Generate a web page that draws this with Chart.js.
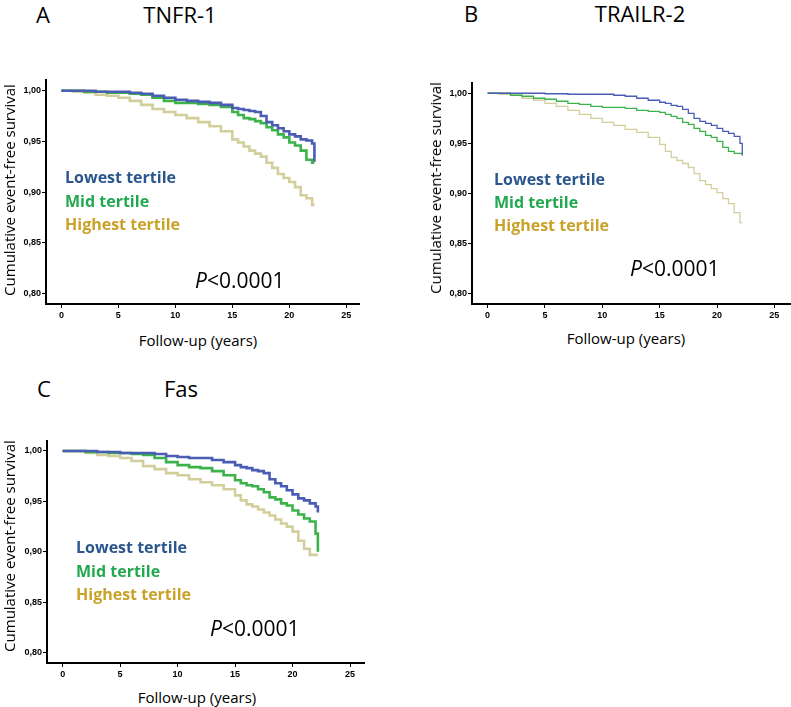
<!DOCTYPE html>
<html>
<head>
<meta charset="utf-8">
<script src="https://cdn.jsdelivr.net/npm/chart.js@4.4.1/dist/chart.umd.min.js"></script>
<style>
  body { margin: 0; background: #fff; width: 791px; height: 707px; position: relative; overflow: hidden; font-family: "Open Sans", sans-serif; }
  canvas { position: absolute; }
  .t { position: absolute; white-space: nowrap; transform: translate(-50%, -50%); color: #000; }
  .ttl { font-size: 22px; }
  .xt { font-size: 15px; }
  .yt { font-size: 15px; transform: translate(-50%, -50%) rotate(-90deg); }
  .lg { position: absolute; white-space: nowrap; transform: translateY(-50%); font-weight: bold; font-size: 16px; }
  .pv { position: absolute; white-space: nowrap; transform: translateY(-50%); font-size: 21px; }
</style>
</head>
<body>

<canvas id="chartA" width="360" height="245" style="left:0px;top:79px"></canvas>
<canvas id="chartB" width="366" height="242" style="left:425px;top:82px"></canvas>
<canvas id="chartC" width="365" height="243" style="left:0px;top:440px"></canvas>

<!-- titles -->
<div class="t ttl" style="left:43px;top:14px">A</div>
<div class="t ttl" style="left:180px;top:14px">TNFR-1</div>
<div class="t ttl" style="left:471px;top:13px">B</div>
<div class="t ttl" style="left:640px;top:13px">TRAILR-2</div>
<div class="t ttl" style="left:44px;top:388px">C</div>
<div class="t ttl" style="left:181px;top:388px">Fas</div>

<!-- axis titles -->
<div class="t yt" style="left:9px;top:190px">Cumulative event-free survival</div>
<div class="t yt" style="left:435px;top:188px">Cumulative event-free survival</div>
<div class="t yt" style="left:9px;top:546px">Cumulative event-free survival</div>
<div class="t xt" style="left:198px;top:340px">Follow-up (years)</div>
<div class="t xt" style="left:626px;top:338px">Follow-up (years)</div>
<div class="t xt" style="left:197px;top:697px">Follow-up (years)</div>

<!-- legends -->
<div class="lg" style="left:65px;top:177px;color:#2b568c">Lowest tertile</div>
<div class="lg" style="left:65px;top:201px;color:#22a94f">Mid tertile</div>
<div class="lg" style="left:65px;top:224px;color:#c9a22a">Highest tertile</div>
<div class="pv" style="left:195px;top:280px"><i>P</i>&lt;0.0001</div>

<div class="lg" style="left:494px;top:179px;color:#2b568c">Lowest tertile</div>
<div class="lg" style="left:494px;top:202px;color:#22a94f">Mid tertile</div>
<div class="lg" style="left:494px;top:225px;color:#c9a22a">Highest tertile</div>
<div class="pv" style="left:630px;top:268px"><i>P</i>&lt;0.0001</div>

<div class="lg" style="left:76px;top:547px;color:#2b568c">Lowest tertile</div>
<div class="lg" style="left:76px;top:571px;color:#22a94f">Mid tertile</div>
<div class="lg" style="left:76px;top:594px;color:#c9a22a">Highest tertile</div>
<div class="pv" style="left:210px;top:628px"><i>P</i>&lt;0.0001</div>

<script>
// --- Data: follow-up times (years) and survival per tertile ---
const years = [0, 1, 2, 3, 4, 5, 6, 7, 8, 9, 10, 11, 12, 13, 14, 15, 15.5, 16, 16.5, 17, 17.5, 18, 18.5, 19, 19.5, 20, 20.5, 21, 21.5, 22, 22.2];
const xTicks = [0, 5, 10, 15, 20, 25];
const yTicks = [0.80, 0.85, 0.90, 0.95, 1.00];

// A - TNFR-1
const tnfrLowest  = [1.000, 1.000, 1.000, 0.999, 0.999, 0.999, 0.998, 0.997, 0.995, 0.993, 0.991, 0.990, 0.989, 0.988, 0.986, 0.983, 0.982, 0.981, 0.980, 0.979, 0.975, 0.969, 0.966, 0.963, 0.960, 0.957, 0.955, 0.952, 0.951, 0.948, 0.930];
const tnfrMid     = [1.000, 1.000, 0.999, 0.999, 0.998, 0.998, 0.997, 0.996, 0.993, 0.990, 0.988, 0.988, 0.987, 0.986, 0.984, 0.979, 0.976, 0.973, 0.972, 0.970, 0.968, 0.964, 0.961, 0.957, 0.954, 0.949, 0.946, 0.941, 0.932, 0.929, 0.929];
const tnfrHighest = [1.000, 0.999, 0.998, 0.996, 0.995, 0.993, 0.990, 0.986, 0.982, 0.979, 0.976, 0.973, 0.969, 0.965, 0.960, 0.952, 0.949, 0.945, 0.941, 0.938, 0.935, 0.929, 0.924, 0.918, 0.914, 0.910, 0.905, 0.897, 0.894, 0.8875, 0.8875];

// B - TRAILR-2
const trailLowest  = [1.000, 1.000, 1.000, 1.000, 1.000, 0.9995, 0.9995, 0.999, 0.999, 0.999, 0.999, 0.998, 0.997, 0.995, 0.993, 0.991, 0.990, 0.988, 0.987, 0.984, 0.980, 0.975, 0.972, 0.970, 0.968, 0.965, 0.962, 0.960, 0.957, 0.950, 0.938];
const trailMid     = [1.000, 1.000, 0.998, 0.997, 0.995, 0.994, 0.992, 0.990, 0.989, 0.987, 0.986, 0.986, 0.985, 0.983, 0.982, 0.981, 0.979, 0.977, 0.975, 0.971, 0.969, 0.965, 0.962, 0.958, 0.956, 0.952, 0.946, 0.942, 0.940, 0.940, 0.939];
const trailHighest = [1.000, 0.999, 0.998, 0.995, 0.993, 0.990, 0.987, 0.983, 0.979, 0.975, 0.971, 0.968, 0.964, 0.961, 0.956, 0.949, 0.942, 0.936, 0.933, 0.930, 0.926, 0.920, 0.913, 0.909, 0.905, 0.901, 0.895, 0.890, 0.881, 0.871, 0.871];

// C - Fas
const fasLowest  = [1.000, 1.000, 1.000, 0.999, 0.999, 0.998, 0.998, 0.998, 0.997, 0.995, 0.994, 0.993, 0.993, 0.991, 0.989, 0.986, 0.984, 0.983, 0.981, 0.980, 0.978, 0.972, 0.968, 0.965, 0.961, 0.957, 0.953, 0.951, 0.948, 0.945, 0.939];
const fasMid     = [1.000, 1.000, 0.999, 0.999, 0.998, 0.998, 0.997, 0.996, 0.993, 0.989, 0.986, 0.984, 0.983, 0.980, 0.976, 0.971, 0.968, 0.966, 0.965, 0.962, 0.959, 0.954, 0.952, 0.948, 0.946, 0.941, 0.937, 0.933, 0.930, 0.918, 0.900];
const fasHighest = [1.000, 1.000, 0.998, 0.996, 0.995, 0.993, 0.990, 0.985, 0.982, 0.978, 0.976, 0.972, 0.969, 0.966, 0.962, 0.956, 0.951, 0.947, 0.945, 0.942, 0.939, 0.936, 0.932, 0.928, 0.925, 0.920, 0.911, 0.903, 0.897, 0.897, 0.897];

const lineColors = ['#4a5cb3', '#3bb34a', '#d3cf9c'];

/**
 * Builds one Kaplan-Meier style panel. yW / xH fix the axis box sizes
 * so the plot area lands where the original figure has it.
 */
function makePanel(id, series, opts) {
    const ctx = document.getElementById(id).getContext('2d');
    const tickFont = { family: 'Liberation Sans', size: 9, weight: 'bold' };

    return new Chart(ctx, {
        type: 'line',
        data: {
            datasets: series.map((vals, i) => ({
                data: years.map((t, j) => ({ x: t, y: vals[j] })),
                borderColor: lineColors[i],
                borderWidth: opts.lw,
                stepped: true,
                pointRadius: 0,
                fill: false
            }))
        },
        options: {
            responsive: false,
            animation: false,
            layout: { padding: 0 },
            plugins: { legend: { display: false }, tooltip: { enabled: false } },
            scales: {
                x: {
                    type: 'linear',
                    min: opts.xMin,
                    max: opts.xMax,
                    afterBuildTicks: s => { s.ticks = xTicks.map(v => ({ value: v })); },
                    afterFit: s => { s.height = opts.xH; s.paddingLeft = 0; s.paddingRight = 0; },
                    grid: { drawOnChartArea: false, drawTicks: true, tickLength: 4, color: '#000', lineWidth: 1 },
                    border: { display: true, color: '#000', width: 2 },
                    ticks: { font: tickFont, color: '#000', padding: 2, maxRotation: 0, autoSkip: false }
                },
                y: {
                    type: 'linear',
                    min: opts.yMin,
                    max: opts.yMax,
                    afterBuildTicks: s => { s.ticks = yTicks.map(v => ({ value: v })); },
                    afterFit: s => { s.width = opts.yW; s.paddingTop = 0; s.paddingBottom = 0; },
                    grid: { drawOnChartArea: false, drawTicks: true, tickLength: 4, color: '#000', lineWidth: 1 },
                    border: { display: true, color: '#000', width: 2 },
                    ticks: {
                        font: tickFont, color: '#000', padding: 1, autoSkip: false,
                        callback: v => v.toFixed(2).replace('.', ',')
                    }
                }
            }
        }
    });
}

makePanel('chartA', [tnfrLowest, tnfrMid, tnfrHighest],
    { xMin: -1.35, xMax: 26.2, yMin: 0.7899, yMax: 1.0115, yW: 46, xH: 20, lw: 2.6 });
makePanel('chartB', [trailLowest, trailMid, trailHighest],
    { xMin: -1.36, xMax: 26.45, yMin: 0.790, yMax: 1.0112, yW: 47, xH: 20, lw: 1.3 });
makePanel('chartC', [fasLowest, fasMid, fasHighest],
    { xMin: -1.36, xMax: 26.3, yMin: 0.7897, yMax: 1.0109, yW: 47, xH: 20, lw: 2.6 });
</script>
</body>
</html>
